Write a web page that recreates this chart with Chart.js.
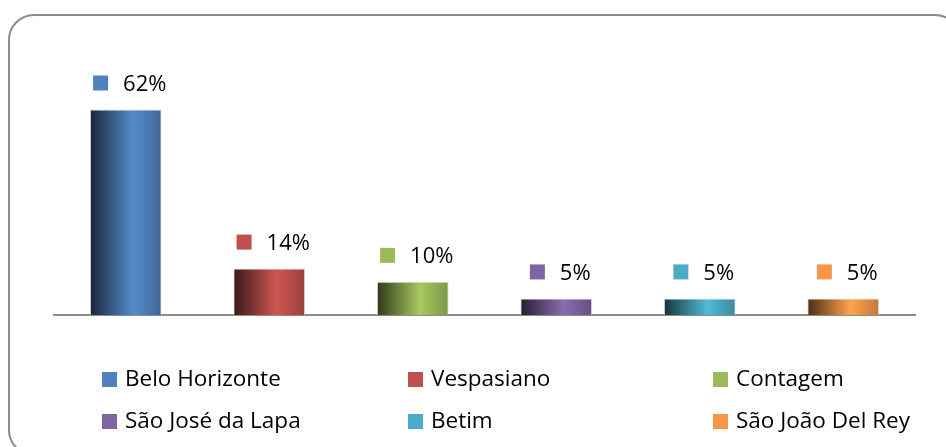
<!DOCTYPE html>
<html>
<head>
<meta charset="utf-8">
<script src="https://cdn.jsdelivr.net/npm/chart.js@4/dist/chart.umd.min.js"></script>
<style>
  html, body { margin: 0; padding: 0; background: #fff; overflow: hidden; }
  #wrap { width: 946px; height: 447px; }
</style>
</head>
<body>
<div id="wrap"><canvas id="chart" width="946" height="447"></canvas></div>
<script>
// data
const cities = ['Belo Horizonte', 'Vespasiano', 'Contagem', 'São José da Lapa', 'Betim', 'São João Del Rey']
const shares = [62, 14, 10, 5, 5, 5]
const colors = ['#4F81BD', '#C0504D', '#9BBB59', '#8064A2', '#4BACC6', '#F79646']

const FONT = '"Open Sans", "DejaVu Sans", sans-serif'

function shade(hex, f) {
    let r = parseInt(hex.slice(1, 3), 16), g = parseInt(hex.slice(3, 5), 16), b = parseInt(hex.slice(5, 7), 16)
    const m = v => Math.max(0, Math.min(255, Math.round(v * f)))
    return 'rgb(' + m(r) + ',' + m(g) + ',' + m(b) + ')'
}

/* cylinder-ish shading across each bar */
function barFill(ctx) {
    const chart = ctx.chart
    const x = chart.scales.x
    const base = colors[ctx.dataIndex]
    if (!x || ctx.type !== 'data') return base
    const c = x.getPixelForValue(ctx.dataIndex)
    const w = x.width / cities.length * 0.5
    if (!Number.isFinite(c) || !Number.isFinite(w) || w <= 0) return base
    const g = chart.ctx.createLinearGradient(c - w / 2, 0, c + w / 2, 0)
    g.addColorStop(0, shade(base, 0.3))
    g.addColorStop(0.6, shade(base, 1.08))
    g.addColorStop(1, shade(base, 0.8))
    return g
}

/* rounded frame around the whole chart */
const frame = {
    id: 'frame',
    beforeDraw(chart) {
        const c = chart.ctx
        c.save()
        c.fillStyle = '#fff'
        c.fillRect(0, 0, chart.width, chart.height)
        c.beginPath()
        c.roundRect(9, 15, 951, 440, 25)
        c.lineWidth = 2
        c.strokeStyle = '#8c8c8c'
        c.stroke()
        c.restore()
    }
}

/* value labels with a legend key, above each bar */
const valueLabels = {
    id: 'valueLabels',
    afterDatasetsDraw(chart) {
        const c = chart.ctx
        const meta = chart.getDatasetMeta(0)
        c.save()
        c.font = '22px ' + FONT
        c.textBaseline = 'middle'
        c.textAlign = 'left'
        meta.data.forEach((bar, i) => {
            const txt = shares[i] + '%'
            const tw = c.measureText(txt).width
            const total = 15 + 15 + tw
            const left = bar.x + 4 - total / 2
            const y = bar.y - 26
            c.fillStyle = colors[i]
            c.fillRect(left, y - 8, 15, 15)
            c.fillStyle = '#000'
            c.fillText(txt, left + 30, y + 1)
        })
        c.restore()
    }
}

/* three-column legend under the plot */
const gridLegend = {
    id: 'gridLegend',
    afterDraw(chart) {
        const c = chart.ctx
        const cols = [102, 408, 713]
        const rows = [379, 421]
        c.save()
        c.font = '22.5px ' + FONT
        c.textBaseline = 'middle'
        c.textAlign = 'left'
        cities.forEach((name, i) => {
            const x = cols[i % 3], y = rows[Math.floor(i / 3)]
            c.fillStyle = colors[i]
            c.fillRect(x, y - 7, 15, 15)
            c.fillStyle = '#000'
            c.fillText(name, x + 23, y + 1)
        })
        c.restore()
    }
}

new Chart(document.getElementById('chart'), {
    type: 'bar',
    data: {
        labels: cities,
        datasets: [{
            data: shares,
            backgroundColor: barFill,
            borderColor: 'rgba(215,215,215,0.9)',
            borderWidth: 1,
            barPercentage: 0.5,
            categoryPercentage: 1
        }]
    },
    options: {
        responsive: false,
        animation: false,
        layout: { padding: { left: 54, right: 31, top: 83, bottom: 124 } },
        plugins: {
            legend: { display: false },
            tooltip: { enabled: false }
        },
        scales: {
            x: {
                grid: { display: false },
                ticks: { display: false },
                border: { display: true, color: '#8c8c8c', width: 2 }
            },
            y: {
                display: false,
                min: 0,
                max: 70
            }
        }
    },
    plugins: [frame, valueLabels, gridLegend]
})
</script>
</body>
</html>
